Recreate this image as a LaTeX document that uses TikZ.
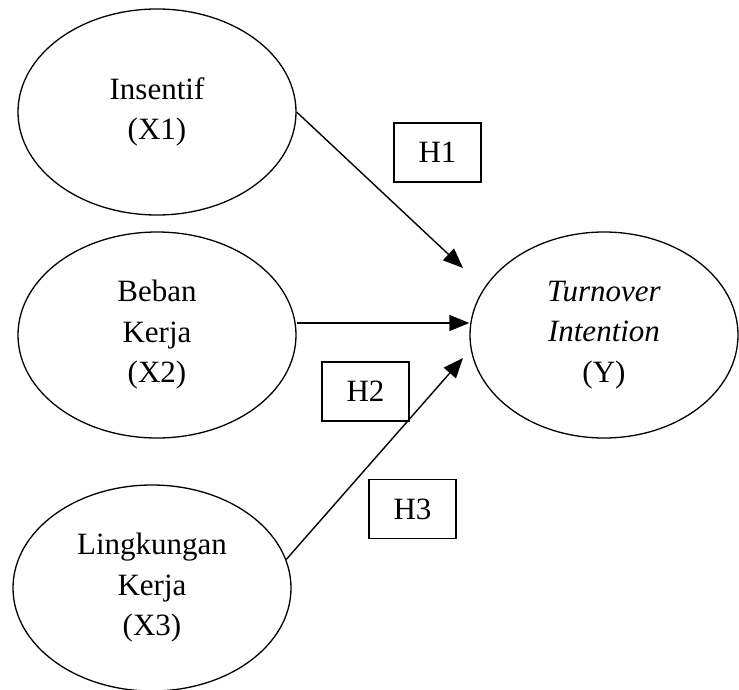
\documentclass[tikz,border=0pt]{standalone}
\usepackage{fontspec}
\setmainfont{Liberation Serif}
\usetikzlibrary{arrows.meta,shapes.geometric}
\tikzset{
  var/.style={draw,ellipse,line width=1.3pt,minimum width=278pt,minimum height=206pt,inner sep=0pt,align=center,font=\fontsize{31}{40.5}\selectfont},
  hyp/.style={draw,line width=1.3pt,minimum width=87pt,minimum height=59pt,inner sep=0pt,font=\fontsize{31}{40.5}\selectfont},
  arr/.style={-{Triangle[length=20pt,width=16pt]},line width=1.4pt},
}
\begin{document}
\begin{tikzpicture}[x=1pt,y=-1pt]
\useasboundingbox (0,0) rectangle (739,690);
\node[var] (x1) at (157,112) {Insentif\\(X1)};
\node[var] (x2) at (157,335) {Beban\\Kerja\\(X2)};
\node[var] (x3) at (152,588) {Lingkungan\\Kerja\\(X3)};
\node[var,minimum width=268pt] (y) at (604,335) {\textit{Turnover}\\\textit{Intention}\\(Y)};
% hypotheses
\node[hyp] (h1) at (437.5,152.5) {H1};
\node[hyp] (h2) at (365.5,391.5) {H2};
\node[hyp] (h3) at (412.5,509) {H3};
\coordinate (t1) at (463,268);
\coordinate (t3) at (463,358);
\draw[arr] (x1.east) -- (t1);
\draw[arr] ([yshift=12pt]x2.east) -- ([yshift=12pt]y.west);
\draw[arr] (x3.12) -- (t3);
\end{tikzpicture}
\end{document}
